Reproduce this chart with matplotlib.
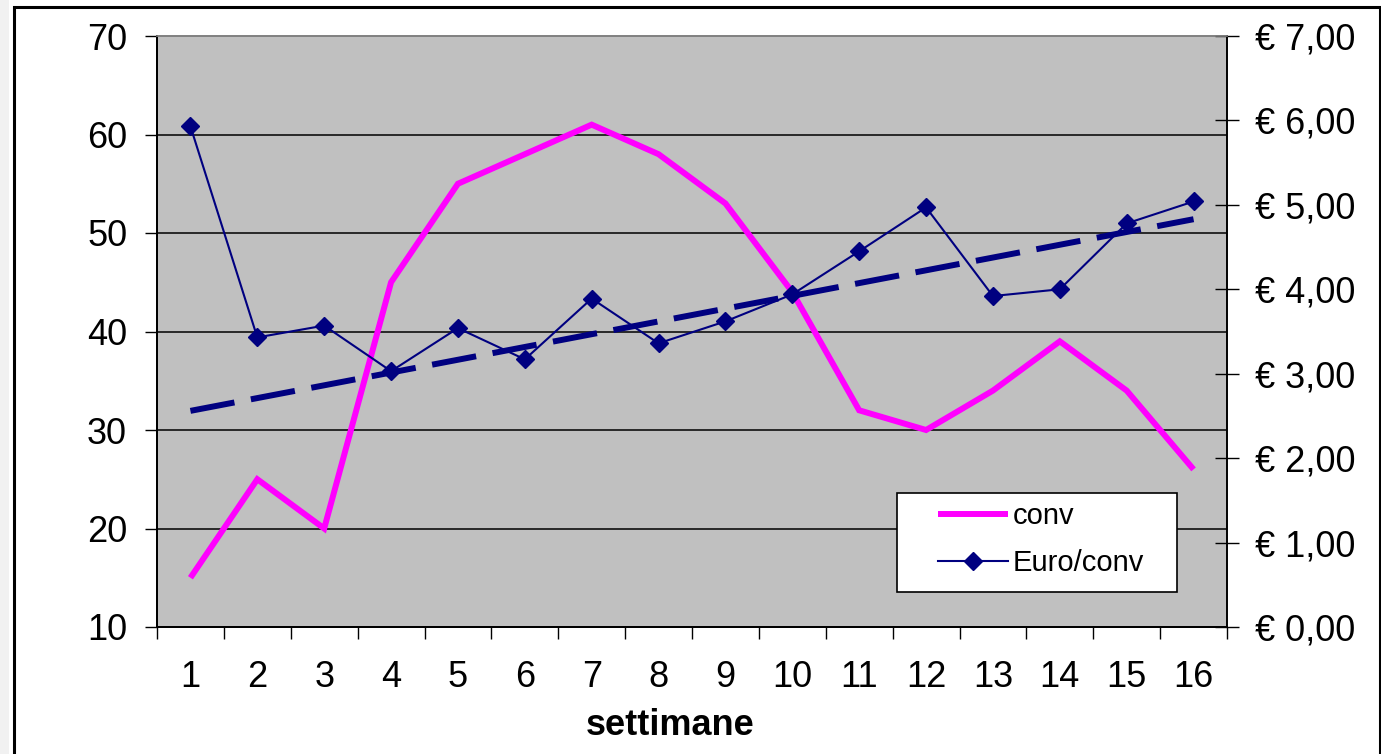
import matplotlib
matplotlib.use("Agg")
import matplotlib.pyplot as plt
from matplotlib.patches import Rectangle
from matplotlib.ticker import FuncFormatter, FixedLocator
from matplotlib.lines import Line2D

plt.rcParams['font.family'] = ['Liberation Sans', 'DejaVu Sans']

weeks = list(range(1, 17))
conv = [15, 25, 20, 45, 55, 58, 61, 58, 53, 44, 32, 30, 34, 39, 34, 26]
euro_conv = [5.93, 3.43, 3.57, 3.03, 3.54, 3.17, 3.89, 3.36, 3.62, 3.94,
             4.45, 4.97, 3.92, 4.00, 4.78, 5.04]
trend_x = [1, 16]
trend_y = [2.56, 4.83]
left_ticks = [10, 20, 30, 40, 50, 60, 70]
right_ticks = [0, 1, 2, 3, 4, 5, 6, 7]
x_label = "settimane"
series_names = ["conv", "Euro/conv"]

W, H = 1381, 754
fig = plt.figure(figsize=(W / 100, H / 100), dpi=100)
fig.patch.set_facecolor('white')

def fx(px):
    return px / W

def fy(py):
    return 1 - py / H

# faint shadow strip on the far left and outer chart border
fig.patches.append(Rectangle((0, 0), fx(9), 1, transform=fig.transFigure,
                             facecolor='#f1f1f1', edgecolor='none', zorder=0))
fig.patches.append(Rectangle((fx(14), -0.05), fx(1380) - fx(14), fy(7) + 0.05,
                             transform=fig.transFigure, facecolor='none',
                             edgecolor='black', linewidth=2.2, zorder=5, clip_on=False))

left, right, top, bottom = 157, 1227, 36, 627
ax = fig.add_axes([fx(left), fy(bottom), fx(right) - fx(left), fy(top) - fy(bottom)])
ax.set_facecolor('#C0C0C0')
ax.set_xlim(0.5, 16.5)
ax.set_ylim(10, 70)

ax2 = ax.twinx()
ax2.set_ylim(0, 7)

FS = 26

# left axis
ax.set_yticks(left_ticks)
ax.tick_params(axis='y', direction='out', length=8.5, width=1.0, color='black',
               labelsize=FS, pad=13)
for v in left_ticks[1:-1]:
    ax.axhline(v, color='black', linewidth=1.1, zorder=1)

# x axis
ax.set_xticks(weeks)
ax.set_xticklabels([str(w) for w in weeks])
ax.xaxis.set_minor_locator(FixedLocator([i + 0.5 for i in range(0, 17)]))
ax.tick_params(axis='x', which='major', length=0, labelsize=FS, pad=24)
ax.tick_params(axis='x', which='minor', direction='out', length=8.5, width=1.0, color='black')

# right axis
ax2.set_yticks(right_ticks)
ax2.yaxis.set_major_formatter(FuncFormatter(lambda v, p: "€ " + f"{v:.2f}".replace('.', ',')))
ax2.tick_params(axis='y', direction='inout', length=17, width=1.0, color='black',
                labelsize=FS, pad=12)

for a in (ax, ax2):
    a.spines['top'].set_color('#808080')
    a.spines['top'].set_linewidth(1.2)
    a.spines['left'].set_color('black')
    a.spines['left'].set_linewidth(1.4)
    a.spines['bottom'].set_color('black')
    a.spines['bottom'].set_linewidth(1.4)
    a.spines['right'].set_color('black')
    a.spines['right'].set_linewidth(1.2)

# series
ax.plot(weeks, conv, color='#FF00FF', linewidth=4.3, solid_joinstyle='miter',
        solid_capstyle='butt', zorder=3)
ax2.plot(weeks, euro_conv, color='#000080', linewidth=1.5, marker='D', markersize=9,
         markerfacecolor='#000080', markeredgecolor='#000080', zorder=4)
ax2.plot(trend_x, trend_y, color='#000080', linewidth=4.3, dashes=(7.5, 2.8),
         dash_capstyle='butt', zorder=3)

# x label
fig.text(fx(670), fy(735), x_label, ha='center', va='baseline', fontsize=FS,
         fontweight='bold')

# legend frame and entries
fig.patches.append(Rectangle((fx(897), fy(592)), fx(1177) - fx(897), fy(493) - fy(592),
                             transform=fig.transFigure, facecolor='white',
                             edgecolor='black', linewidth=1.2, zorder=6))
handles = [
    Line2D([], [], color='#FF00FF', linewidth=4.3, solid_capstyle='butt'),
    Line2D([], [], color='#000080', linewidth=1.5, marker='D', markersize=9),
]
leg = fig.legend(handles, series_names, loc='upper left',
                 bbox_to_anchor=(fx(938), fy(502)), frameon=False,
                 fontsize=21, handlelength=2.4, handletextpad=0.15,
                 borderpad=0, borderaxespad=0, labelspacing=0.65)
leg.set_zorder(7)

fig.savefig("out.png", dpi=100, facecolor='white')
